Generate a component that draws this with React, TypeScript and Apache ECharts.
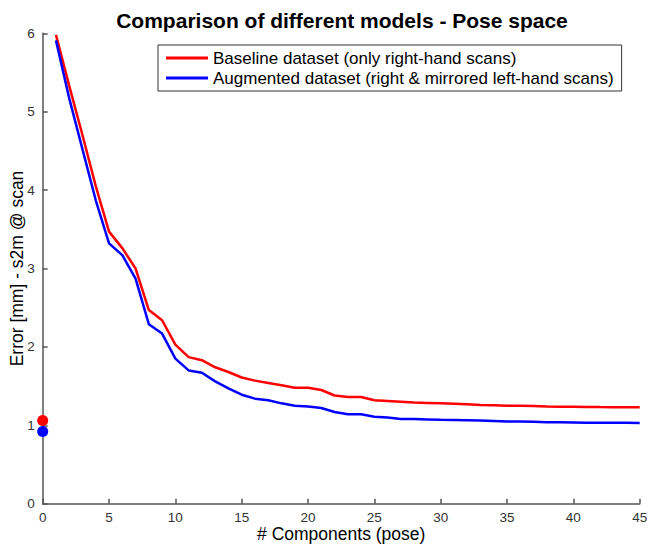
import React, { useEffect, useRef } from "react";
import * as echarts from "echarts";

const components = [1, 2, 3, 4, 5, 6, 7, 8, 9, 10, 11, 12, 13, 14, 15, 16, 17, 18, 19, 20, 21, 22, 23, 24, 25, 26, 27, 28, 29, 30, 31, 32, 33, 34, 35, 36, 37, 38, 39, 40, 41, 42, 43, 44, 45];
const baseline = [5.98, 5.33, 4.70, 4.05, 3.47, 3.26, 3.00, 2.47, 2.34, 2.03, 1.87, 1.83, 1.74, 1.68, 1.61, 1.57, 1.54, 1.51, 1.48, 1.48, 1.45, 1.38, 1.36, 1.36, 1.32, 1.31, 1.30, 1.29, 1.285, 1.28, 1.275, 1.27, 1.26, 1.255, 1.25, 1.248, 1.245, 1.24, 1.238, 1.236, 1.234, 1.232, 1.231, 1.23, 1.23];
const augmented = [5.91, 5.17, 4.52, 3.87, 3.32, 3.17, 2.87, 2.29, 2.17, 1.85, 1.70, 1.67, 1.56, 1.47, 1.39, 1.34, 1.32, 1.28, 1.25, 1.24, 1.22, 1.17, 1.14, 1.14, 1.11, 1.10, 1.08, 1.08, 1.075, 1.07, 1.068, 1.065, 1.06, 1.055, 1.05, 1.048, 1.045, 1.04, 1.038, 1.036, 1.034, 1.033, 1.032, 1.031, 1.03];
const baselineAtZero = 1.06;
const augmentedAtZero = 0.92;
const seriesNames = ["Baseline dataset (only right-hand scans)", "Augmented dataset (right & mirrored left-hand scans)"];

export default function App() {
  const ref = useRef<HTMLDivElement>(null);
  useEffect(() => {
    if (!ref.current) return;
    const chart = echarts.init(ref.current, null, { renderer: "svg" });
    const font = "'Liberation Sans', Arial, Helvetica, sans-serif";
    const axisColor = "#555";
    chart.setOption({
      animation: false,
      backgroundColor: "#fff",
      textStyle: { fontFamily: font },
      title: {
        text: "Comparison of different models - Pose space",
        left: 337,
        textAlign: "center",
        top: 5,
        textStyle: { fontSize: 21, fontWeight: "bold", color: "#000", fontFamily: font },
      },
      legend: {
        data: seriesNames.map((n) => ({ name: n, icon: "rect" })),
        orient: "vertical",
        left: 158,
        top: 45,
        padding: [3, 8, 3, 8],
        itemGap: 0,
        itemWidth: 42,
        itemHeight: 3,
        borderColor: "#333",
        borderWidth: 1,
        backgroundColor: "#fff",
        textStyle: { fontSize: 17, color: "#000", fontFamily: font, lineHeight: 20 },
      },
      grid: { left: 42.7, right: 7.3, top: 33.3, bottom: 42.3, containLabel: false, outerBoundsMode: "none" },
      xAxis: {
        type: "value",
        min: 0,
        max: 45,
        interval: 5,
        name: "# Components (pose)",
        nameLocation: "middle",
        nameGap: 21,
        nameMoveOverlap: false,
        nameTextStyle: { fontSize: 17.5, color: "#000", fontFamily: font },
        axisLine: { show: true, onZero: false, lineStyle: { color: axisColor, width: 1.5 } },
        axisTick: { show: true, inside: true, length: 5, lineStyle: { color: axisColor, width: 1.5 } },
        axisLabel: { fontSize: 13.5, color: "#333", margin: 7, fontFamily: font },
        splitLine: { show: false },
      },
      yAxis: {
        type: "value",
        min: 0,
        max: 6,
        interval: 1,
        name: "Error [mm] - s2m @ scan",
        nameLocation: "middle",
        nameGap: 17,
        nameMoveOverlap: false,
        nameTextStyle: { fontSize: 17.5, color: "#000", fontFamily: font },
        axisLine: { show: true, onZero: false, lineStyle: { color: axisColor, width: 1.5 } },
        axisTick: { show: true, inside: true, length: 5, lineStyle: { color: axisColor, width: 1.5 } },
        axisLabel: { fontSize: 13.5, color: "#333", margin: 8, fontFamily: font },
        splitLine: { show: false },
      },
      series: [
        {
          name: seriesNames[0],
          type: "line",
          data: components.map((c, i) => [c, baseline[i]]),
          symbol: "none",
          lineStyle: { color: "#ff0000", width: 2.5 },
          itemStyle: { color: "#ff0000" },
        },
        {
          name: seriesNames[1],
          type: "line",
          data: components.map((c, i) => [c, augmented[i]]),
          symbol: "none",
          lineStyle: { color: "#0000ff", width: 2.5 },
          itemStyle: { color: "#0000ff" },
        },
        {
          name: "baseline0",
          type: "scatter",
          data: [[0, baselineAtZero]],
          symbolSize: 11,
          clip: false,
          itemStyle: { color: "#ff0000", opacity: 1 },
          z: 5,
        },
        {
          name: "augmented0",
          type: "scatter",
          data: [[0, augmentedAtZero]],
          symbolSize: 11,
          clip: false,
          itemStyle: { color: "#0000ff", opacity: 1 },
          z: 6,
        },
      ],
    });
    return () => chart.dispose();
  }, []);
  return <div ref={ref} style={{ width: 647, height: 546, position: "absolute", left: 0, top: 0 }} />;
}
